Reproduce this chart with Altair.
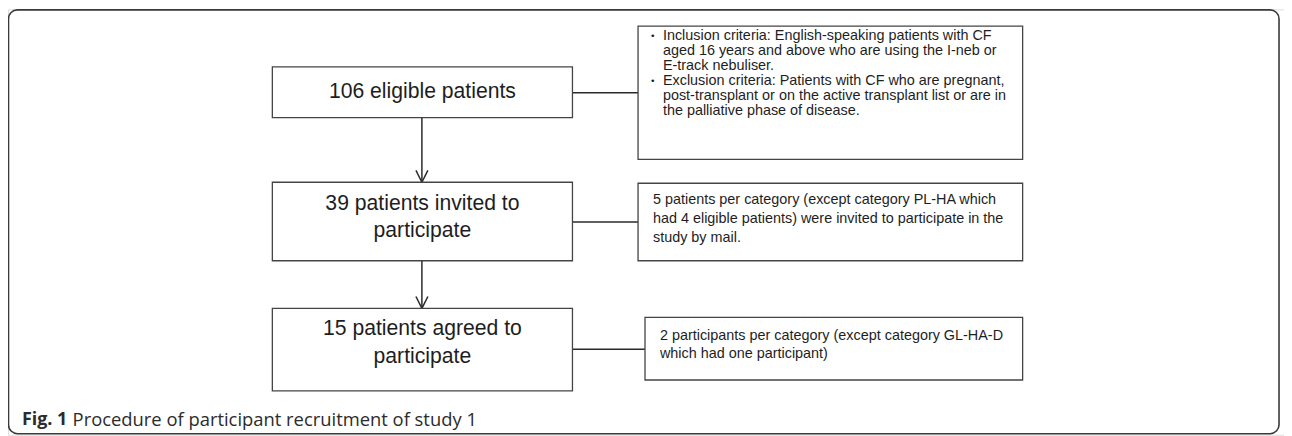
import altair as alt
import pandas as pd

# ---- content ----
main_lines = ["106 eligible patients",
              "39 patients invited to", "participate",
              "15 patients agreed to", "participate"]
criteria_lines = ["Inclusion criteria: English-speaking patients with CF",
                  "aged 16 years and above who are using the I-neb or",
                  "E-track nebuliser.",
                  "Exclusion criteria: Patients with CF who are pregnant,",
                  "post-transplant or on the active transplant list or are in",
                  "the palliative phase of disease."]
bullet_flags = [True, False, False, True, False, False]
invite_lines = ["5 patients per category (except category PL-HA which",
                "had 4 eligible patients) were invited to participate in the",
                "study by mail."]
agree_lines = ["2 participants per category (except category GL-HA-D",
               "which had one participant)"]
caption_bold = "Fig. 1"
caption_text = "Procedure of participant recruitment of study 1"

# ---- layout (pixel positions in the figure) ----
W, H = 1292, 436
main_box_x = [274, 576]
main_box_y = [(66, 117), (182, 261), (309, 392)]
main_line_y = [91, 204, 231, 330, 358]
side_boxes = [(642, 1029, 25, 159), (642, 1029, 183, 261), (649, 1029, 318, 381)]
crit_y = [35, 50, 65, 80, 95, 110]
invite_y = [200, 219, 238]
agree_y = [337, 355]
connector_y = [92, 222, 350]
arrow_x = 424.5

xs = alt.Scale(domain=[8, W], nice=False, zero=False)
ys = alt.Scale(domain=[8, H], nice=False, zero=False, reverse=True)

def X(f="x"):
    return alt.X(f + ":Q", scale=xs, axis=None)

def Y(f="y"):
    return alt.Y(f + ":Q", scale=ys, axis=None)

# frame
frame_df = pd.DataFrame([{"x": 8.5, "x2": 1287, "y": 8.5, "y2": 435}])
frame = alt.Chart(frame_df).mark_rect(fill=None, stroke="#3a3a3a", strokeWidth=1.6,
                                      cornerRadius=9).encode(
    x=X(), x2="x2:Q", y=Y(), y2="y2:Q")

# boxes
box_rows = [{"x": main_box_x[0], "x2": main_box_x[1], "y": a, "y2": b} for a, b in main_box_y]
box_rows += [{"x": a, "x2": b, "y": c, "y2": d} for a, b, c, d in side_boxes]
boxes = alt.Chart(pd.DataFrame(box_rows)).mark_rect(fill="white", stroke="#444444",
                                                    strokeWidth=1.3).encode(
    x=X(), x2="x2:Q", y=Y(), y2="y2:Q")

# connectors and arrows
seg = []
for (sx0, sx1, sy0, sy1), cy in zip(side_boxes, connector_y):
    seg.append({"x": main_box_x[1], "x2": sx0, "y": cy, "y2": cy})
for top, bot in [(main_box_y[0][1], main_box_y[1][0]), (main_box_y[1][1], main_box_y[2][0])]:
    seg.append({"x": arrow_x, "x2": arrow_x, "y": top, "y2": bot})
    seg.append({"x": arrow_x - 6, "x2": arrow_x, "y": bot - 12, "y2": bot})
    seg.append({"x": arrow_x + 6, "x2": arrow_x, "y": bot - 12, "y2": bot})
lines = alt.Chart(pd.DataFrame(seg)).mark_rule(color="#2a2a2a", strokeWidth=1.5).encode(
    x=X(), x2="x2:Q", y=Y(), y2="y2:Q")

# main text
main_df = pd.DataFrame({"x": [425] * len(main_lines), "y": main_line_y, "t": main_lines})
main_text = alt.Chart(main_df).mark_text(font="Liberation Sans", fontSize=21.3, color="#1e1e1e",
                                         align="center", baseline="middle").encode(
    x=X(), y=Y(), text="t:N")

# side texts
side_rows = [{"x": 667, "y": y, "t": t} for y, t in zip(crit_y, criteria_lines)]
side_rows += [{"x": 657, "y": y, "t": t} for y, t in zip(invite_y, invite_lines)]
side_rows += [{"x": 664, "y": y, "t": t} for y, t in zip(agree_y, agree_lines)]
side_text = alt.Chart(pd.DataFrame(side_rows)).mark_text(
    font="Liberation Sans", fontSize=14.5, color="#1e1e1e", align="left", baseline="middle").encode(
    x=X(), y=Y(), text="t:N")

bul_df = pd.DataFrame([{"x": 655, "y": y, "t": "\u2022"} for y, f in zip(crit_y, bullet_flags) if f])
bullets = alt.Chart(bul_df).mark_text(font="Liberation Sans", fontSize=10, color="#1e1e1e",
                                      align="left", baseline="middle").encode(
    x=X(), y=Y(), text="t:N")

# caption
cap_df = pd.DataFrame([{"x": 22, "y": 421, "t": caption_bold}])
cap_b = alt.Chart(cap_df).mark_text(font="Open Sans", fontSize=18, fontWeight="bold",
                                    color="#2b2b2b", align="left", baseline="middle").encode(
    x=X(), y=Y(), text="t:N")
cap_df2 = pd.DataFrame([{"x": 73, "y": 421, "t": caption_text}])
cap_r = alt.Chart(cap_df2).mark_text(font="Open Sans", fontSize=18.5, color="#2b2b2b",
                                     align="left", baseline="middle").encode(
    x=X(), y=Y(), text="t:N")

chart = alt.layer(frame, lines, boxes, main_text, side_text, bullets, cap_b, cap_r).properties(
    width=W - 8, height=H - 8, padding=0,
    autosize=alt.AutoSizeParams(type="none")
).configure_view(stroke=None).configure(background="white")

chart.save("out.html", embed_options={"renderer": "svg", "actions": False})
